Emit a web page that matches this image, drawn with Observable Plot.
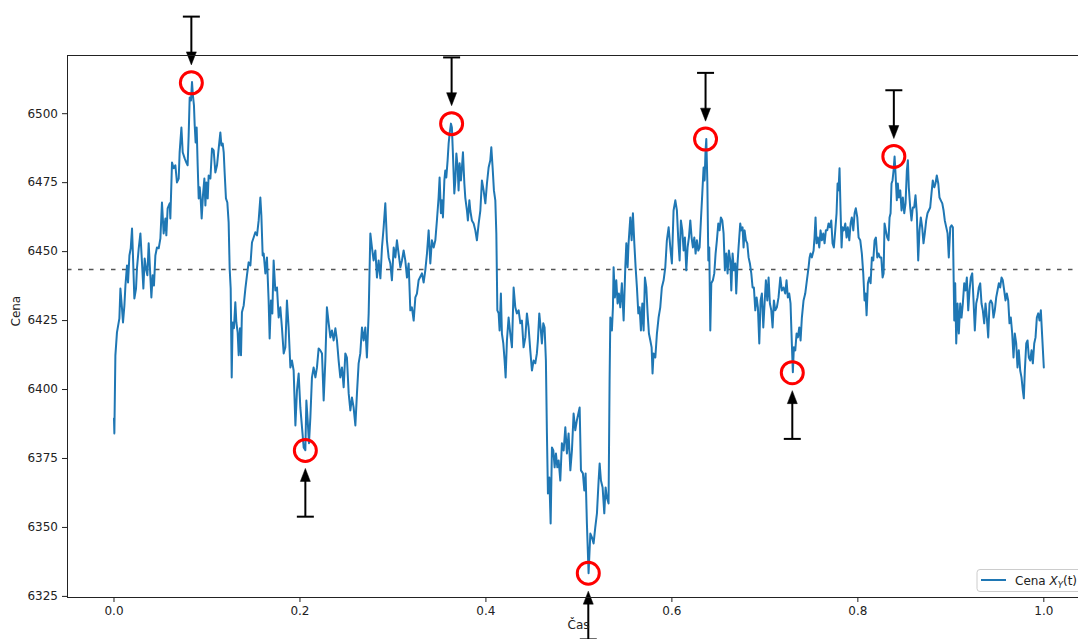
<!DOCTYPE html>
<html><head><meta charset="utf-8">
<script src="https://cdn.jsdelivr.net/npm/d3@7"></script>
<script src="https://cdn.jsdelivr.net/npm/@observablehq/plot@0.6"></script>
<style>
html,body{margin:0;padding:0;background:#fff;overflow:hidden;}
#chart{position:relative;width:1078px;height:639px;overflow:hidden;}
</style></head><body><div id="chart"></div>
<script>
const time = [
0.0000,0.0004,0.0015,0.0032,0.0058,0.0069,0.0086,0.0097,0.0112,0.0123,
0.0140,0.0151,0.0166,0.0180,0.0194,0.0204,0.0219,0.0237,0.0247,0.0266,
0.0284,0.0301,0.0316,0.0330,0.0344,0.0359,0.0373,0.0387,0.0402,0.0416,
0.0430,0.0445,0.0462,0.0481,0.0499,0.0516,0.0534,0.0553,0.0563,0.0577,
0.0599,0.0606,0.0624,0.0642,0.0660,0.0677,0.0696,0.0706,0.0725,0.0739,
0.0760,0.0778,0.0792,0.0803,0.0814,0.0828,0.0839,0.0849,0.0860,0.0868,
0.0878,0.0889,0.0900,0.0911,0.0922,0.0932,0.0943,0.0957,0.0972,0.0983,
0.0994,0.1008,0.1018,0.1037,0.1054,0.1072,0.1090,0.1108,0.1126,0.1144,
0.1155,0.1169,0.1180,0.1190,0.1204,0.1219,0.1233,0.1244,0.1255,0.1266,
0.1276,0.1290,0.1305,0.1316,0.1330,0.1341,0.1355,0.1366,0.1376,0.1395,
0.1413,0.1430,0.1448,0.1467,0.1484,0.1502,0.1520,0.1538,0.1556,0.1574,
0.1585,0.1599,
0.1610,0.1628,0.1645,0.1663,0.1674,0.1688,0.1703,0.1717,0.1735,0.1753,
0.1771,0.1789,0.1806,0.1825,0.1843,0.1860,0.1878,0.1897,0.1914,0.1932,
0.1951,0.1968,0.1986,0.2004,0.2022,0.2040,0.2058,0.2069,0.2083,0.2097,
0.2112,0.2129,0.2147,0.2166,0.2183,0.2201,0.2219,0.2237,0.2255,0.2273,
0.2290,0.2309,0.2327,0.2344,0.2362,0.2381,0.2398,0.2416,0.2434,0.2452,
0.2470,0.2488,0.2505,0.2524,0.2542,0.2559,0.2577,0.2596,0.2613,0.2631,
0.2649,0.2667,0.2685,0.2703,0.2720,0.2739,0.2757,0.2774,0.2792,0.2811,
0.2828,0.2846,0.2865,0.2882,0.2900,0.2918,0.2935,0.2954,0.2972,0.2989,
0.3008,0.3026,0.3043,0.3061,0.3080,0.3097,0.3115,0.3133,0.3151,0.3169,
0.3187,0.3204,0.3223,0.3241,0.3258,0.3276,
0.3312,0.3330,0.3348,0.3366,0.3384,0.3402,0.3419,0.3438,0.3456,0.3473,
0.3491,0.3502,0.3516,0.3527,0.3538,0.3553,0.3563,0.3574,0.3588,0.3599,
0.3610,0.3624,0.3634,0.3645,0.3660,0.3671,0.3682,0.3696,0.3706,0.3717,
0.3731,0.3742,0.3753,0.3768,0.3778,0.3796,0.3806,0.3822,0.3832,0.3849,
0.3868,0.3886,0.3903,0.3922,0.3940,0.3957,0.3975,0.3994,0.4011,0.4029,
0.4047,0.4058,0.4072,0.4086,0.4101,0.4112,0.4123,0.4137,0.4147,0.4161,
0.4172,0.4187,0.4201,0.4212,0.4226,0.4244,0.4262,0.4280,0.4298,0.4316,
0.4333,0.4352,0.4370,0.4387,0.4405,0.4424,0.4441,0.4459,0.4477,0.4495,
0.4513,0.4531,0.4548,0.4559,0.4574,0.4588,0.4602,0.4617,0.4631,0.4645,
0.4656,0.4667,0.4682,0.4696,0.4710,0.4725,0.4739,0.4753,0.4768,0.4782,
0.4800,0.4817,0.4836,0.4854,0.4871,0.4889,0.4908,0.4925,0.4943,0.4961,
0.4978,
0.5008,0.5022,0.5043,0.5058,0.5072,0.5086,0.5104,0.5123,0.5140,0.5158,
0.5176,0.5194,0.5212,0.5223,0.5237,0.5255,0.5273,0.5287,0.5301,0.5319,
0.5330,0.5338,0.5355,0.5366,0.5373,0.5387,0.5402,0.5416,0.5430,0.5445,
0.5462,0.5481,0.5499,0.5510,0.5524,0.5534,0.5553,0.5567,0.5581,0.5596,
0.5610,0.5624,0.5639,0.5653,0.5667,0.5682,0.5696,0.5710,0.5725,0.5739,
0.5753,0.5768,0.5782,0.5792,0.5803,0.5822,0.5839,0.5857,0.5875,0.5892,
0.5911,0.5929,0.5946,0.5965,0.5983,0.6000,0.6018,0.6037,0.6054,0.6069,
0.6083,0.6097,0.6112,0.6126,0.6140,0.6155,0.6169,0.6183,0.6198,0.6212,
0.6226,0.6241,0.6255,0.6269,0.6284,0.6298,0.6312,0.6327,0.6341,0.6352,
0.6362,0.6370,0.6381,0.6392,0.6402,0.6413,0.6424,0.6441,0.6456,0.6470,
0.6484,0.6499,0.6513,0.6527,0.6542,0.6556,0.6570,0.6585,0.6599,0.6613,
0.6628,0.6639,0.6653,0.6667,0.6682,0.6692,0.6706,0.6717,0.6735,0.6746,
0.6760,0.6771,0.6782,0.6796,0.6811,0.6825,0.6839,0.6854,0.6868,0.6882,
0.6897,0.6911,0.6925,0.6940,0.6954,0.6968,0.6983,0.6997,0.7011,0.7026,
0.7040,0.7054,0.7069,0.7083,0.7097,0.7112,0.7129,0.7147,0.7166,0.7183,
0.7201,0.7219,0.7233,0.7247,0.7262,0.7276,0.7290,0.7301,0.7312,0.7327,
0.7341,0.7355,0.7370,0.7384,0.7398,0.7416,0.7434,0.7452,0.7470,0.7481,
0.7491,0.7505,0.7524,0.7534,0.7545,0.7556,0.7570,0.7585,0.7599,0.7613,
0.7628,0.7642,0.7656,0.7671,0.7685,0.7699,0.7714,0.7728,0.7742,0.7757,
0.7771,0.7782,0.7792,0.7803,0.7814,0.7825,0.7835,0.7849,0.7865,0.7879,
0.7892,0.7908,0.7922,0.7935,0.7951,0.7965,0.7978,0.7994,0.8008,0.8026,
0.8043,0.8058,0.8072,0.8083,0.8094,0.8108,0.8123,0.8137,0.8151,0.8166,
0.8180,0.8194,0.8209,0.8223,0.8237,0.8252,0.8266,
0.8277,0.8287,0.8301,0.8316,0.8330,0.8341,0.8352,0.8362,0.8373,0.8384,
0.8395,0.8405,0.8419,0.8430,0.8441,0.8456,0.8470,0.8484,0.8499,0.8513,
0.8527,0.8538,0.8548,0.8563,0.8577,0.8591,0.8606,0.8620,0.8634,0.8649,
0.8663,0.8677,0.8692,0.8706,0.8720,0.8735,0.8749,0.8763,0.8778,0.8792,
0.8806,0.8822,0.8835,0.8849,0.8865,0.8878,0.8892,0.8908,0.8922,0.8935,
0.8951,0.8965,0.8978,0.8994,0.9008,0.9022,0.9037,0.9047,0.9058,0.9072,
0.9086,0.9101,0.9115,0.9129,0.9144,0.9158,0.9172,0.9187,0.9201,0.9215,
0.9230,0.9244,0.9258,0.9273,0.9287,0.9301,0.9316,0.9330,0.9344,0.9359,
0.9373,0.9387,0.9402,0.9416,0.9430,0.9445,0.9459,0.9473,0.9488,0.9502,
0.9516,0.9531,0.9545,0.9559,0.9574,0.9588,0.9602,0.9617,0.9631,0.9645,
0.9660,0.9674,0.9688,0.9703,0.9717,0.9731,0.9746,0.9760,0.9774,0.9785,
0.9796,0.9811,0.9825,0.9839,0.9854,0.9868,0.9882,0.9897,0.9911,0.9925,
0.9940,0.9954,0.9968,0.9983,1.0000
];
const price = [
6389.5,6384.1,6412.4,6420.7,6425.8,6436.6,6429.4,6424.3,6430.5,6437.7,
6445.0,6438.8,6448.6,6451.2,6458.4,6448.6,6433.0,6436.6,6443.9,6451.2,
6456.6,6446.1,6436.6,6447.5,6443.9,6441.4,6453.0,6443.9,6433.4,6441.4,
6437.7,6448.6,6451.5,6451.2,6454.8,6467.8,6456.6,6462.0,6455.9,6465.7,
6467.5,6462.0,6482.3,6480.2,6481.3,6475.1,6476.5,6486.0,6495.0,6486.0,
6483.8,6482.3,6481.3,6492.1,6505.9,6504.8,6511.5,6506.6,6503.0,6495.8,
6489.6,6495.0,6481.3,6469.3,6473.3,6469.3,6462.0,6470.4,6476.5,6466.7,
6475.1,6469.3,6477.6,6476.5,6487.4,6486.7,6478.7,6481.3,6487.4,6493.2,
6488.5,6489.2,6486.0,6478.7,6469.3,6467.8,6460.6,6443.9,6436.6,6404.4,
6424.3,6422.2,6431.6,6424.3,6420.7,6412.4,6422.2,6412.4,6428.0,6430.5,
6436.6,6441.4,6446.1,6445.0,6453.3,6455.1,6457.0,6455.9,6461.3,6469.6,
6463.1,6448.6,
6449.3,6442.1,6447.9,6432.3,6418.5,6432.3,6427.6,6446.8,6435.9,6437.0,
6426.1,6429.8,6422.5,6413.1,6415.3,6432.3,6422.5,6408.0,6410.5,6406.9,
6387.0,6399.7,6405.8,6393.5,6386.3,6379.0,6378.0,6396.0,6388.8,6380.5,
6389.9,6404.4,6408.0,6404.4,6408.0,6414.9,6414.2,6413.1,6396.0,6410.5,
6429.8,6424.0,6418.9,6421.4,6417.8,6422.2,6417.8,6410.5,6404.4,6408.0,
6400.8,6413.1,6411.6,6398.6,6392.4,6397.1,6393.5,6387.0,6398.6,6409.5,
6413.1,6422.5,6417.8,6422.5,6411.6,6427.6,6456.6,6451.5,6446.8,6450.4,
6440.6,6446.8,6440.3,6451.5,6458.8,6467.5,6454.1,6447.9,6445.7,6439.6,
6451.5,6447.9,6454.1,6449.3,6444.3,6446.8,6450.4,6446.8,6440.6,6445.7,
6428.7,6429.8,6425.0,6433.4,6434.8,6439.6,
6442.1,6438.8,6443.2,6449.3,6457.7,6445.7,6454.1,6451.5,6454.1,6461.3,
6469.6,6476.9,6463.9,6468.6,6462.4,6475.8,6479.4,6476.9,6483.1,6489.2,
6492.9,6496.4,6495.0,6485.6,6471.1,6475.8,6485.6,6480.5,6472.2,6482.0,
6475.8,6480.5,6486.0,6474.7,6469.6,6464.9,6461.3,6468.6,6464.9,6461.3,
6460.2,6457.7,6454.1,6460.2,6464.9,6475.8,6472.2,6467.5,6474.7,6480.5,
6483.1,6487.8,6480.5,6472.2,6468.6,6456.6,6428.7,6427.6,6421.4,6434.8,
6420.3,6416.7,6410.5,6404.4,6417.8,6426.1,6420.3,6415.3,6437.0,6429.8,
6427.6,6428.7,6424.0,6425.0,6415.3,6418.9,6427.6,6422.5,6414.2,6406.9,
6410.5,6409.5,6413.1,6417.8,6427.6,6422.5,6416.7,6424.0,6422.5,6410.5,
6384.1,6362.3,6368.1,6351.4,6379.0,6377.9,6371.8,6376.8,6371.8,6374.3,
6367.0,6380.5,6377.9,6386.3,6376.8,6384.1,6370.7,6377.9,6391.3,6385.2,
6388.8,
6393.5,6370.7,6369.6,6363.4,6369.6,6351.4,6333.4,6347.8,6346.4,6344.2,
6350.0,6355.1,6367.0,6373.2,6367.0,6364.5,6355.1,6364.5,6360.9,6358.7,
6403.3,6426.1,6421.4,6429.8,6444.3,6433.4,6439.6,6431.2,6434.8,6429.8,
6438.5,6425.0,6444.3,6453.0,6444.3,6453.0,6462.4,6454.1,6463.9,6453.0,
6444.3,6437.0,6427.6,6429.8,6421.4,6431.2,6421.4,6440.6,6437.0,6427.6,
6420.3,6417.8,6415.3,6405.8,6413.1,6411.6,6420.3,6426.1,6429.8,6437.0,
6439.6,6444.3,6454.1,6458.8,6451.5,6445.7,6464.9,6468.6,6464.9,6454.1,
6446.8,6461.3,6457.7,6450.4,6455.1,6443.2,6451.5,6455.1,6461.3,6455.1,
6451.5,6455.1,6449.3,6454.1,6450.4,6451.5,6461.3,6471.1,6480.5,6475.8,
6486.7,6490.8,6475.8,6446.8,6451.5,6421.4,6438.5,6439.6,6442.1,6449.3,
6454.1,6460.2,6457.7,6462.4,6461.3,6456.6,6443.2,6449.3,6442.1,6450.4,
6446.8,6435.9,6449.3,6443.2,6445.7,6434.8,6445.7,6451.5,6460.2,6457.7,
6458.8,6451.5,6457.7,6454.1,6453.0,6447.9,6445.7,6442.1,6437.0,6437.0,
6428.7,6433.4,6429.8,6416.7,6432.3,6434.8,6422.5,6431.2,6439.6,6432.3,
6440.6,6431.2,6428.7,6422.5,6432.3,6428.7,6429.8,6433.4,6440.6,6435.9,
6437.0,6434.8,6439.6,6433.4,6434.8,6431.2,6416.7,6406.3,6415.3,6414.2,
6420.3,6418.9,6422.5,6417.8,6426.1,6432.3,6434.8,6439.6,6444.3,6447.9,
6449.3,6447.9,6450.4,6455.1,6462.4,6453.0,6455.1,6451.5,6457.7,6454.1,
6456.6,6453.0,6457.7,6457.7,6460.2,6458.8,6461.3,6453.0,6451.5,6457.7,
6463.9,6474.7,6472.2,6480.2,6464.9,6451.5,6458.8,6457.7,6460.2,6455.1,
6458.8,6454.1,6460.2,6462.4,6457.7,6463.9,6465.7,6462.4,6455.1,6454.1,
6449.3,6442.1,6432.3,6434.8,6426.9,6438.5,6440.6,6438.5,6447.9,6446.8,
6454.1,6455.1,6447.9,6449.3,6447.9,6447.9,6440.6,
6442.1,6460.2,6457.7,6455.1,6454.1,6462.4,6463.9,6474.7,6475.8,6479.4,
6484.5,6478.4,6468.6,6474.7,6469.6,6472.2,6464.9,6469.6,6463.9,6467.5,
6479.4,6483.1,6473.3,6466.0,6461.3,6466.0,6466.0,6470.4,6463.9,6446.8,
6457.7,6462.4,6458.8,6453.0,6456.6,6461.3,6463.9,6464.9,6466.0,6471.1,
6475.8,6473.3,6474.7,6477.6,6474.7,6469.6,6468.6,6467.5,6464.9,6461.3,
6458.8,6456.6,6447.9,6458.8,6459.5,6458.8,6425.0,6438.5,6416.7,6431.2,
6420.3,6431.2,6426.1,6431.2,6438.5,6435.9,6440.6,6428.7,6435.9,6440.6,
6442.1,6432.3,6421.4,6431.2,6433.4,6437.0,6438.5,6431.2,6428.7,6424.0,
6431.2,6426.1,6418.9,6431.2,6432.3,6431.2,6426.1,6428.7,6433.4,6435.9,
6438.5,6437.0,6440.6,6439.6,6435.9,6432.3,6434.8,6432.3,6424.0,6426.1,
6420.3,6411.6,6420.3,6416.7,6408.0,6414.2,6406.9,6404.4,6399.7,6396.8,
6406.9,6416.7,6417.8,6411.6,6410.5,6414.2,6409.5,6416.7,6418.9,6426.1,
6427.6,6425.0,6428.7,6418.9,6408.0
];

// marked local extrema
const maxTime  = [0.0832, 0.3631, 0.6362, 0.8387];
const maxPrice = [6511.2, 6496.4, 6490.8, 6484.5];
const minTime  = [0.2058, 0.5101, 0.7295];
const minPrice = [6377.9, 6333.4, 6406.1];

const meanPrice = 6443.5;
const xTicks = [0.0, 0.2, 0.4, 0.6, 0.8, 1.0];
const yTicks = [6325, 6350, 6375, 6400, 6425, 6450, 6475, 6500];
const xLabel = "Čas";
const yLabel = "Cena";

const series = time.map((t, i) => ({t, v: price[i]}));
const maxima = maxTime.map((t, i) => ({t, v: maxPrice[i]}));
const minima = minTime.map((t, i) => ({t, v: minPrice[i]}));

const xDomain = [-0.05, 1.0373];
const yDomain = [6324.6, 6521.1];
const capOff = 24, tipOff = 6.5;

const capSymbol = {draw(ctx) { ctx.moveTo(-8.5, 0); ctx.lineTo(8.5, 0); }};
const headDown = {draw(ctx) { ctx.moveTo(0, 0); ctx.lineTo(-5, -13); ctx.lineTo(5, -13); ctx.closePath(); }};
const headUp = {draw(ctx) { ctx.moveTo(0, 0); ctx.lineTo(-5, 13); ctx.lineTo(5, 13); ctx.closePath(); }};
const spine = {stroke: "#222", strokeWidth: 1};

const chart = Plot.plot({
  width: 1078, height: 639,
  marginLeft: 67, marginRight: 0, marginTop: 55, marginBottom: 42,
  style: {fontFamily: "'DejaVu Sans', sans-serif", fontSize: "12px", color: "#222", background: "white"},
  x: {domain: xDomain, label: null},
  y: {domain: yDomain, label: null},
  marks: [
    Plot.ruleY([meanPrice], {stroke: "#555", strokeWidth: 1.5, strokeDasharray: "4.5,6.5"}),
    Plot.lineY(series, {x: "t", y: "v", stroke: "#1f77b4", strokeWidth: 2}),
    Plot.dot(maxima, {x: "t", y: "v", r: 11, stroke: "#ff0000", strokeWidth: 3, fill: "none"}),
    Plot.dot(minima, {x: "t", y: "v", r: 11, stroke: "#ff0000", strokeWidth: 3, fill: "none"}),
    Plot.link(maxima, {x1: "t", x2: "t", y1: d => d.v + capOff, y2: d => d.v + tipOff + 3, stroke: "black", strokeWidth: 2}),
    Plot.dot(maxima, {x: "t", y: d => d.v + capOff, symbol: capSymbol, stroke: "black", strokeWidth: 2, fill: "none"}),
    Plot.dot(maxima, {x: "t", y: d => d.v + tipOff, symbol: headDown, fill: "black", stroke: "black", strokeWidth: 0.5}),
    Plot.link(minima, {x1: "t", x2: "t", y1: d => d.v - capOff, y2: d => d.v - tipOff - 3, stroke: "black", strokeWidth: 2}),
    Plot.dot(minima, {x: "t", y: d => d.v - capOff, symbol: capSymbol, stroke: "black", strokeWidth: 2, fill: "none"}),
    Plot.dot(minima, {x: "t", y: d => d.v - tipOff, symbol: headUp, fill: "black", stroke: "black", strokeWidth: 0.5}),
    Plot.ruleX([xDomain[0]], spine),
    Plot.ruleY([yDomain[0]], spine),
    Plot.ruleY([yDomain[1]], spine),
    Plot.axisX({ticks: xTicks, tickFormat: d3.format(".1f"), tickSize: 5, tickPadding: 4, label: null}),
    Plot.axisY({ticks: yTicks, tickFormat: d3.format("d"), tickSize: 5, tickPadding: 4.5, label: null}),
    Plot.text([xLabel], {text: d => d, frameAnchor: "bottom", dx: 5.5, dy: 31, fill: "#222"}),
    Plot.text([yLabel], {text: d => d, frameAnchor: "left", rotate: -90, dx: -51, fill: "#222"})
  ]
});
document.getElementById("chart").appendChild(chart);

// legend (inside the axes, lower right, partly cut off like the original)
const svg = d3.select(chart);
const lg = svg.append("g").attr("font-family", "'DejaVu Sans', sans-serif").attr("font-size", 12)
  .attr("text-anchor", "start");
lg.append("rect").attr("x", 977).attr("y", 569.5).attr("width", 140).attr("height", 22).attr("rx", 3)
  .attr("fill", "white").attr("fill-opacity", 0.8).attr("stroke", "#ccc");
lg.append("line").attr("x1", 981).attr("x2", 1006).attr("y1", 580).attr("y2", 580)
  .attr("stroke", "#1f77b4").attr("stroke-width", 2);
const tx = lg.append("text").attr("x", 1015).attr("y", 584.5).attr("fill", "#222").attr("text-anchor", "start");
tx.append("tspan").text("Cena ");
tx.append("tspan").attr("font-style", "italic").text("X");
tx.append("tspan").attr("font-style", "italic").attr("font-size", 8.5).attr("dy", 3).text("Y");
tx.append("tspan").attr("dy", -3).text("(t)");
</script></body></html>
